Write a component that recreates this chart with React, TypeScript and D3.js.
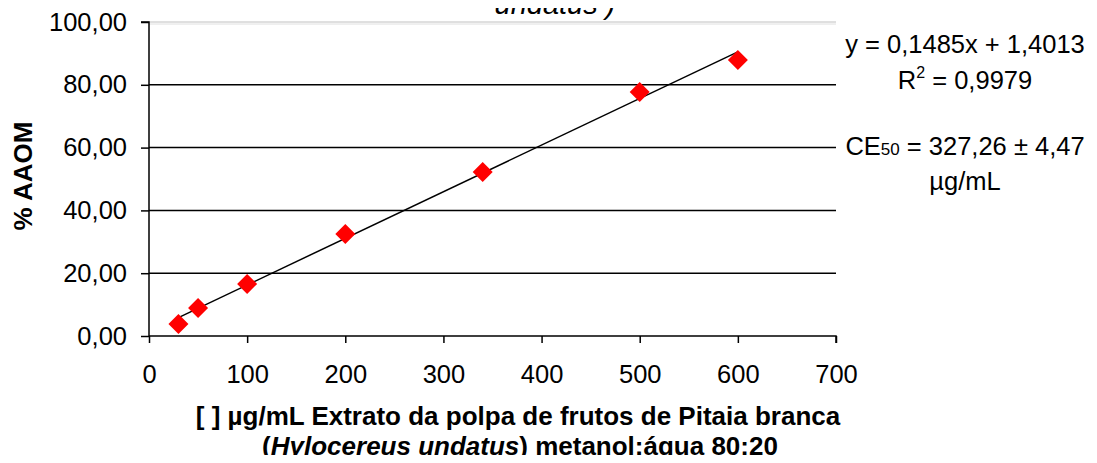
import { useEffect, useRef } from 'react';
import * as d3 from 'd3';

// dose (µg/mL) vs % AAOM
const concentrations = [30, 50, 100, 200, 340, 500, 600];
const aaom = [3.8, 8.9, 16.6, 32.5, 52.2, 77.7, 87.9];
const xTicks = [0, 100, 200, 300, 400, 500, 600, 700];
const yTicks = [0, 20, 40, 60, 80, 100];
const slope = 0.1485;
const intercept = 1.4013;

const W = 1097;
const H = 463;
const margin = { left: 149, right: 261, top: 22, bottom: 127 };

export default function App() {
  const ref = useRef<SVGSVGElement>(null);

  useEffect(() => {
    const svg = d3.select(ref.current);
    svg.selectAll('*').remove();

    const font = 'Liberation Sans, Arial, sans-serif';
    const x = d3.scaleLinear().domain([0, 700]).range([margin.left, W - margin.right]);
    const y = d3.scaleLinear().domain([0, 100]).range([H - margin.bottom, margin.top]);
    const fmt = (d: number) => d.toFixed(2).replace('.', ',');

    // title (cut off at the top)
    svg.append('text')
      .attr('x', 555).attr('y', 14)
      .attr('text-anchor', 'middle')
      .attr('font-family', font).attr('font-size', 29).attr('font-style', 'italic')
      .text('undatus )');

    // gridlines
    svg.append('g')
      .selectAll('line')
      .data(yTicks.filter(d => d > 0 && d < 100))
      .join('line')
      .attr('x1', x(0)).attr('x2', x(700))
      .attr('y1', d => y(d)).attr('y2', d => y(d))
      .attr('stroke', '#000').attr('stroke-width', 1.5);

    // top border (grey)
    svg.append('line')
      .attr('x1', x(0)).attr('x2', x(700))
      .attr('y1', y(100)).attr('y2', y(100))
      .attr('stroke', '#c0c0c0').attr('stroke-width', 1);
    svg.append('line')
      .attr('x1', x(0)).attr('x2', x(700))
      .attr('y1', y(100) + 2).attr('y2', y(100) + 2)
      .attr('stroke', '#e0e0e0').attr('stroke-width', 1);

    // axes
    const yAxis = d3.axisLeft(y).tickValues(yTicks).tickSize(8).tickPadding(14).tickFormat(d => fmt(+d));
    const gy = svg.append('g').attr('transform', `translate(${x(0)},0)`).call(yAxis);
    const xAxis = d3.axisBottom(x).tickValues(xTicks).tickSize(7).tickPadding(22).tickFormat(d3.format('d'));
    const gx = svg.append('g').attr('transform', `translate(0,${y(0)})`).call(xAxis);
    [gx, gy].forEach(g => {
      g.select('.domain').attr('stroke', '#000').attr('stroke-width', 1.5);
      g.selectAll('.tick line').attr('stroke', '#000').attr('stroke-width', 1.5);
      g.selectAll('.tick text').attr('font-family', font).attr('font-size', 25.5).attr('fill', '#000');
    });
    gy.select('.domain').attr('d', `M-8,${y(100)}H0V${y(0)}`);
    gx.select('.domain').attr('d', `M${x(0)},0H${x(700)}V7`);

    // trendline
    const trend = [30, 600];
    svg.append('path')
      .datum(trend)
      .attr('fill', 'none').attr('stroke', '#000').attr('stroke-width', 1.5)
      .attr('d', d3.line<number>().x(d => x(d)).y(d => y(slope * d + intercept)));

    // diamonds
    const sym = d3.symbol().type(d3.symbolSquare).size(200);
    svg.append('g')
      .selectAll('path')
      .data(concentrations.map((c, i) => [c, aaom[i]]))
      .join('path')
      .attr('d', sym)
      .attr('transform', d => `translate(${x(d[0])},${y(d[1])}) rotate(45)`)
      .attr('fill', '#ff0000');

    // annotations
    const ann = svg.append('g').attr('font-family', font).attr('font-size', 25.5).attr('text-anchor', 'middle');
    ann.append('text').attr('x', 965).attr('y', 53).text('y = 0,1485x + 1,4013');
    const r2 = ann.append('text').attr('x', 965).attr('y', 89);
    r2.append('tspan').text('R');
    r2.append('tspan').attr('dy', -11).attr('font-size', 16).text('2');
    r2.append('tspan').attr('dy', 11).text(' = 0,9979');
    const ce = ann.append('text').attr('x', 965).attr('y', 155);
    ce.append('tspan').text('CE');
    ce.append('tspan').attr('font-size', 17).text('50');
    ce.append('tspan').text(' = 327,26 ± 4,47');
    ann.append('text').attr('x', 965).attr('y', 190).text('µg/mL');

    // axis titles
    svg.append('text')
      .attr('transform', `translate(32,176) rotate(-90)`)
      .attr('text-anchor', 'middle')
      .attr('font-family', font).attr('font-size', 26).attr('font-weight', 'bold')
      .text('% AAOM');

    const xt = svg.append('g').attr('font-family', font).attr('font-size', 26).attr('font-weight', 'bold').attr('text-anchor', 'middle');
    xt.append('text').attr('x', 518).attr('y', 425).text('[ ] µg/mL Extrato da polpa de frutos de Pitaia branca');
    const l2 = xt.append('text').attr('x', 520).attr('y', 455);
    l2.append('tspan').text('(');
    l2.append('tspan').attr('font-style', 'italic').text('Hylocereus undatus');
    l2.append('tspan').text(') metanol:água 80:20');
  }, []);

  return (
    <div style={{ margin: -8 }}>
      <svg ref={ref} width={W} height={H} style={{ background: '#fff', display: 'block' }} />
    </div>
  );
}
